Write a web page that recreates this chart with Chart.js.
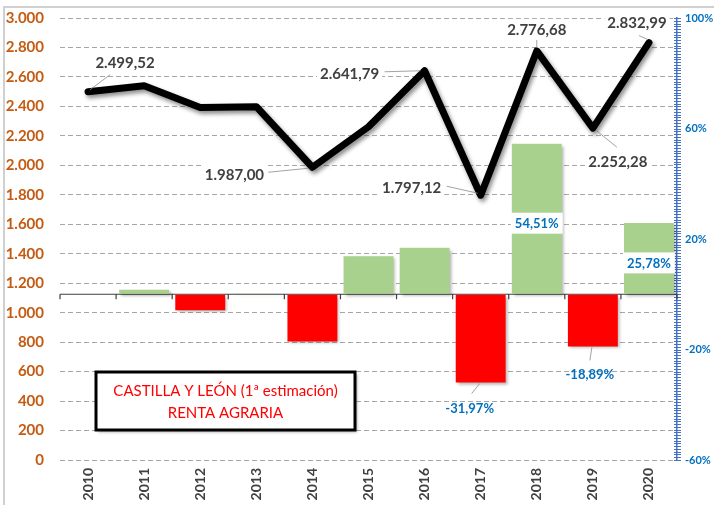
<!DOCTYPE html>
<html>
<head>
<meta charset="utf-8">
<script src="https://cdn.jsdelivr.net/npm/chart.js@4.4.0/dist/chart.umd.min.js"></script>
<style>
  html, body { margin: 0; padding: 0; background: #fff; }
  #wrap { width: 714px; height: 505px; position: relative; }
</style>
</head>
<body>
<div id="wrap"><canvas id="rentaChart"></canvas></div>
<script>
// datos
const years = ['2010', '2011', '2012', '2013', '2014', '2015', '2016', '2017', '2018', '2019', '2020'];
const renta = [2499.52, 2540, 2392, 2398, 1987.00, 2262, 2641.79, 1797.12, 2776.68, 2252.28, 2832.99];
const variacion = [null, 1.6, -5.8, 0.3, -17.1, 13.8, 16.8, -31.97, 54.51, -18.89, 25.78];
const rentaAxis = [0, 3000, 200];      // min, max, step
const variacionAxis = [-60, 100, 40];  // min, max, labelled step
const rentaLabelIdx = [0, 4, 6, 7, 8, 9, 10];
const variacionLabelIdx = [7, 8, 9, 10];
const boxLines = ['CASTILLA Y LEÓN (1ª estimación)', 'RENTA AGRARIA'];

// label placement relative to the point: text centre (dx,dy), leader from (ax,ay) to (bx,by)
const rentaLabelPos = {
  0: { dx: 37, dy: -30, ax: 2, ay: -2, bx: 22, by: -17 },
  4: { dx: -78, dy: 7, ax: -4, ay: 1, bx: -44, by: 5 },
  6: { dx: -75, dy: 2, ax: -4, ay: 0, bx: -40, by: 1 },
  7: { dx: -69, dy: -8, ax: -3, ay: -2, bx: -34, by: -9 },
  8: { dx: 0, dy: -22, ax: 0, ay: -3, bx: 0, by: -11 },
  9: { dx: 25, dy: 33, ax: 3, ay: 2, bx: 24, by: 19 },
  10: { dx: -12, dy: -20, ax: -1, ay: -3, bx: -10, by: -7 }
};
const variacionLabelPos = {
  7: { dx: -11, dy: 25, ax: -1, ay: 1, bx: -9, by: 11 },
  9: { dx: -3, dy: 27, ax: -1, ay: 1, bx: -3, by: 14 }
};

const fmtNum = (v, dec) => {
  const parts = Math.abs(v).toFixed(dec).split('.');
  parts[0] = parts[0].replace(/\B(?=(\d{3})+(?!\d))/g, '.');
  return (v < 0 ? '-' : '') + parts.join(dec ? ',' : '');
};
const fmtPct = (v) => v.toFixed(2).replace('.', ',') + '%';

const shadowPlugin = {
  id: 'shadow',
  beforeDatasetDraw(chart, args) {
    const ctx = chart.ctx;
    ctx.save();
    if (args.meta.type === 'line') {
      ctx.shadowColor = 'rgba(0,0,0,0.45)';
      ctx.shadowBlur = 4;
      ctx.shadowOffsetX = 2;
      ctx.shadowOffsetY = 3;
    } else {
      ctx.shadowColor = 'rgba(0,0,0,0.3)';
      ctx.shadowBlur = 3;
      ctx.shadowOffsetX = 2;
      ctx.shadowOffsetY = 2;
    }
  },
  afterDatasetDraw(chart) {
    chart.ctx.restore();
  }
};

const decorPlugin = {
  id: 'decor',
  beforeDraw(chart) {
    const ctx = chart.ctx;
    ctx.save();
    ctx.strokeStyle = '#d0d0d0';
    ctx.lineWidth = 2;
    ctx.beginPath();
    ctx.moveTo(4, chart.height);
    ctx.lineTo(4, 7);
    ctx.lineTo(chart.width, 7);
    ctx.stroke();
    ctx.restore();
  },
  beforeDatasetsDraw(chart) {
    const ctx = chart.ctx;
    const area = chart.chartArea;
    const y2 = chart.scales.y2;
    ctx.save();
    // minor ticks crossing the secondary axis
    ctx.strokeStyle = '#4472C4';
    ctx.lineWidth = 1;
    ctx.beginPath();
    y2.ticks.forEach(t => {
      const y = Math.round(y2.getPixelForValue(t.value)) + 0.5;
      ctx.moveTo(area.right - 3, y);
      ctx.lineTo(area.right + 4, y);
    });
    ctx.stroke();
    // category axis crossing at 0 %
    const y0 = y2.getPixelForValue(0);
    const step = (area.right - area.left) / years.length;
    ctx.strokeStyle = '#404040';
    ctx.lineWidth = 1.2;
    ctx.beginPath();
    ctx.moveTo(area.left, y0);
    ctx.lineTo(area.right, y0);
    for (let k = 0; k <= years.length; k++) {
      const x = area.left + k * step;
      ctx.moveTo(x, y0);
      ctx.lineTo(x, y0 + 5);
    }
    ctx.stroke();
    ctx.restore();
  },
  afterDatasetsDraw(chart) {
    const ctx = chart.ctx;
    ctx.save();
    ctx.textAlign = 'center';
    ctx.textBaseline = 'middle';

    const lineMeta = chart.getDatasetMeta(0);
    rentaLabelIdx.forEach(i => {
      const pt = lineMeta.data[i];
      const s = rentaLabelPos[i];
      ctx.strokeStyle = '#8c8c8c';
      ctx.lineWidth = 0.8;
      ctx.beginPath();
      ctx.moveTo(pt.x + s.ax, pt.y + s.ay);
      ctx.lineTo(pt.x + s.bx, pt.y + s.by);
      ctx.stroke();
      const txt = fmtNum(renta[i], 2);
      ctx.font = 'bold 15px Lato';
      const w = ctx.measureText(txt).width;
      ctx.fillStyle = '#fff';
      ctx.fillRect(pt.x + s.dx - w / 2 - 3, pt.y + s.dy - 10, w + 6, 20);
      ctx.fillStyle = '#404040';
      ctx.fillText(txt, pt.x + s.dx, pt.y + s.dy + 1);
    });

    const barMeta = chart.getDatasetMeta(1);
    variacionLabelIdx.forEach(i => {
      const bar = barMeta.data[i];
      const txt = fmtPct(variacion[i]);
      ctx.font = 'bold 13px Lato';
      const w = ctx.measureText(txt).width;
      let tx, ty;
      if (variacion[i] > 0) {
        tx = bar.x;
        ty = (bar.y + bar.base) / 2 + 4;
        ctx.fillStyle = '#fff';
        ctx.fillRect(tx - w / 2 - 4, ty - 10, w + 8, 21);
      } else {
        const s = variacionLabelPos[i];
        ctx.strokeStyle = '#8c8c8c';
        ctx.lineWidth = 0.8;
        ctx.beginPath();
        ctx.moveTo(bar.x + s.ax, bar.y + s.ay);
        ctx.lineTo(bar.x + s.bx, bar.y + s.by);
        ctx.stroke();
        tx = bar.x + s.dx;
        ty = bar.y + s.dy;
      }
      ctx.fillStyle = '#0070C0';
      ctx.fillText(txt, tx, ty + 1);
    });
    ctx.restore();
  },
  afterDraw(chart) {
    // title box
    const ctx = chart.ctx;
    const bx = 96, by = 372, bw = 259, bh = 58;
    ctx.save();
    ctx.shadowColor = 'rgba(0,0,0,0.35)';
    ctx.shadowBlur = 3;
    ctx.shadowOffsetX = 2;
    ctx.shadowOffsetY = 2;
    ctx.fillStyle = '#fff';
    ctx.fillRect(bx, by, bw, bh);
    ctx.shadowColor = 'transparent';
    ctx.strokeStyle = '#000';
    ctx.lineWidth = 3;
    ctx.strokeRect(bx, by, bw, bh);
    ctx.fillStyle = '#FF0000';
    ctx.font = '15px Lato';
    ctx.textAlign = 'center';
    ctx.textBaseline = 'middle';
    ctx.fillText(boxLines[0], bx + bw / 2, by + 19);
    ctx.fillText(boxLines[1], bx + bw / 2, by + 41);
    ctx.restore();
  }
};

const fitVertical = (width) => (scale) => {
  scale.width = width;
  scale.paddingTop = 0;
  scale.paddingBottom = 0;
};

const ctx = document.getElementById('rentaChart');

new Chart(ctx, {
  type: 'bar',
  data: {
    labels: years,
    datasets: [
      {
        type: 'line',
        label: 'Renta agraria',
        data: renta,
        yAxisID: 'y',
        borderColor: '#000000',
        borderWidth: 7,
        borderJoinStyle: 'round',
        borderCapStyle: 'round',
        pointRadius: 0,
        tension: 0
      },
      {
        type: 'bar',
        label: 'Variación',
        data: variacion,
        yAxisID: 'y2',
        backgroundColor: variacion.map(v => (v !== null && v < 0) ? '#FF0000' : '#A9D18E'),
        borderWidth: 0,
        barPercentage: 0.89,
        categoryPercentage: 1
      }
    ]
  },
  options: {
    responsive: true,
    maintainAspectRatio: false,
    animation: false,
    layout: { padding: { top: 18, left: 0, right: 0, bottom: 0 } },
    plugins: {
      legend: { display: false },
      tooltip: { enabled: false }
    },
    scales: {
      x: {
        grid: { display: false, drawTicks: false },
        border: { display: false },
        ticks: {
          color: '#404040',
          font: { family: 'Lato', size: 14, weight: 'bold' },
          maxRotation: 90,
          minRotation: 90,
          padding: 8
        },
        afterFit(scale) { scale.height = 45; }
      },
      y: {
        position: 'left',
        min: rentaAxis[0],
        max: rentaAxis[1],
        grid: { color: '#a6a6a6', lineWidth: 1, drawTicks: false },
        border: { display: false, dash: [5, 3] },
        ticks: {
          stepSize: rentaAxis[2],
          color: '#C55A11',
          padding: 16,
          font: { family: 'Lato', size: 15, weight: 'bold' },
          callback: (v) => fmtNum(v, 0)
        },
        afterFit: fitVertical(60)
      },
      y2: {
        position: 'right',
        min: variacionAxis[0],
        max: variacionAxis[1],
        grid: { drawOnChartArea: false, display: true, drawTicks: false },
        border: { display: true, color: '#4472C4', width: 1.5 },
        ticks: {
          stepSize: 1,
          autoSkip: false,
          color: '#0070C0',
          padding: 8,
          font: { family: 'Lato', size: 11, weight: 'bold' },
          callback: (v) => ((v - variacionAxis[0]) % variacionAxis[2] === 0 ? v + '%' : '')
        },
        afterFit: fitVertical(37)
      }
    }
  },
  plugins: [shadowPlugin, decorPlugin]
});
</script>
</body>
</html>
